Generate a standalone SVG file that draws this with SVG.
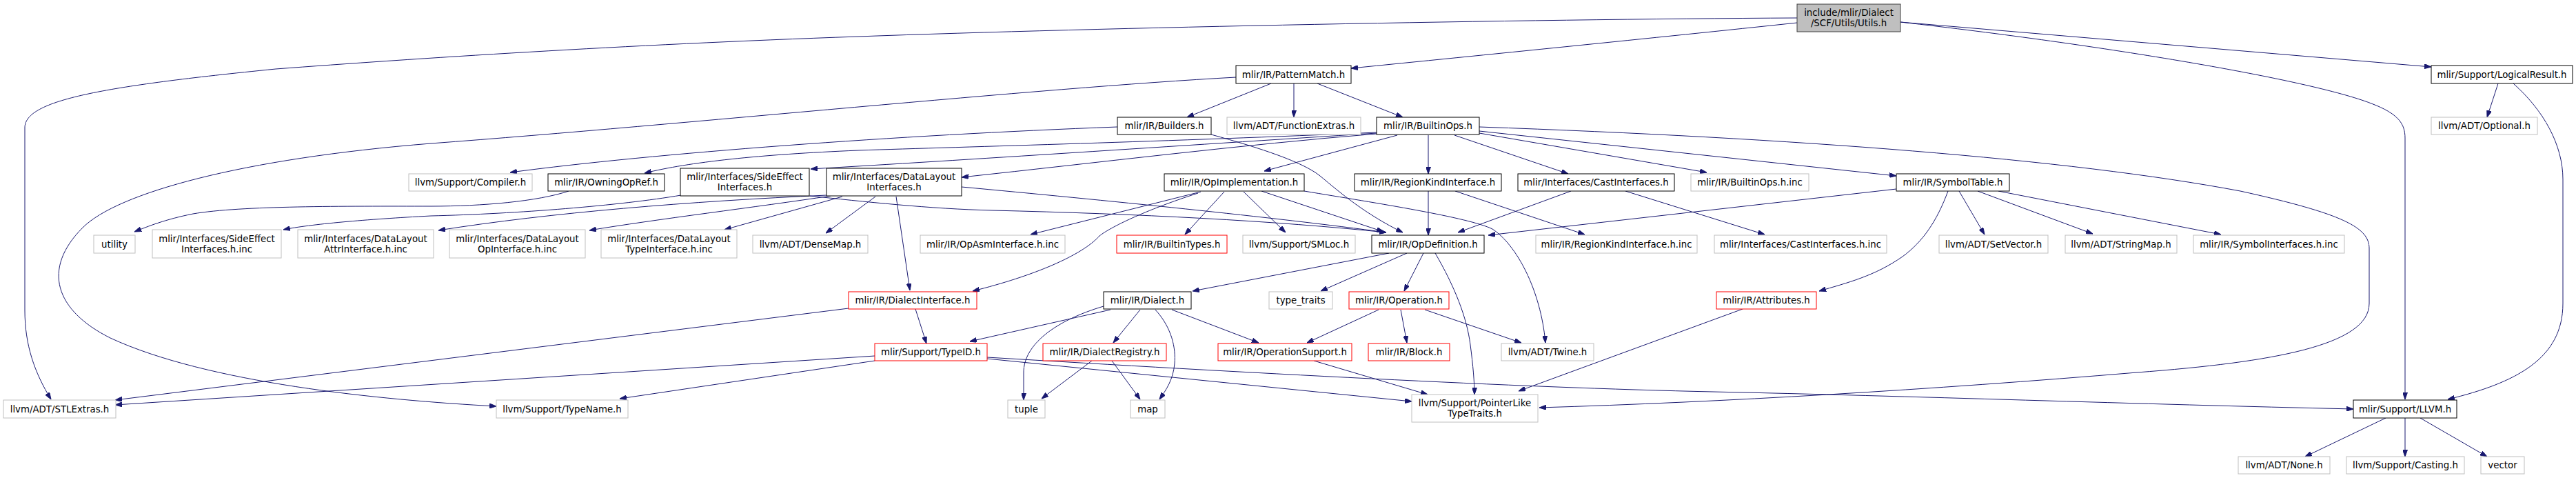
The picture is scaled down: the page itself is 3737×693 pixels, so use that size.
<svg xmlns="http://www.w3.org/2000/svg" width="3737" height="693" viewBox="0 0 3737 693">
<style>
rect{fill:#fff;stroke-width:1}
.b rect{stroke:#000}
.g rect{stroke:#bfbfbf}
.r rect{stroke:#ff0000}
.root rect{fill:#bfbfbf;stroke:#404040}
text{font-family:"DejaVu Sans","Liberation Sans",sans-serif;font-size:13.33px;fill:#000;text-anchor:middle}
#edges path{fill:none;stroke:#191970;stroke-width:1;marker-end:url(#ah)}
</style>
<defs>
<marker id="ah" viewBox="0 0 10 7" refX="10" refY="3.5" markerWidth="10" markerHeight="7" markerUnits="userSpaceOnUse" orient="auto">
<path d="M0,0 L10,3.5 L0,7 z" fill="#191970" stroke="#191970"/>
</marker>
</defs>
<rect x="0" y="0" width="3737" height="693" style="fill:#fff;stroke:none"/>
<g id="edges">
<path d="M2607,33 C2400,55 2150,80 1960,99"/>
<path d="M2607,26 C2200,28 1600,40 1245,53 C900,65 600,85 400,100 C150,125 36,145 36,185 L36,450 C36,500 50,540 74,579"/>
<path d="M2757,32 L3527,97"/>
<path d="M2757,32 C3050,65 3350,115 3440,150 C3480,165 3489,180 3489,200 L3489,579"/>
<path d="M3624,121 L3608,170"/>
<path d="M3646,121 C3690,160 3718,210 3718,260 L3718,440 C3718,520 3650,555 3551,579"/>
<path d="M3461,606 L3344,662"/>
<path d="M3489,606 L3489,662"/>
<path d="M3511,606 L3608,662"/>
<path d="M1844,121 L1722,170"/>
<path d="M1877,121 L1877,170"/>
<path d="M1911,121 L2035,170"/>
<path d="M1793,112 C1500,128 1000,180 625,208 C350,230 170,280 120,330 C60,390 80,450 160,490 C300,555 550,580 720,589"/>
<path d="M1621,184 C1300,196 950,222 740,250"/>
<path d="M1757,195 C1830,215 1890,235 1915,255 C1945,280 1980,310 2035,337"/>
<path d="M1997,192 C1700,205 1400,213 1245,218 C1100,224 1000,235 935,251"/>
<path d="M1997,193 C1700,212 1400,232 1176,245"/>
<path d="M1997,194 C1800,210 1600,235 1395,257"/>
<path d="M2027,196 L1834,248"/>
<path d="M2072,196 L2072,252"/>
<path d="M2110,196 L2275,252"/>
<path d="M2146,193 L2476,250"/>
<path d="M2146,190 L2751,255"/>
<path d="M2146,184 C2600,200 3000,230 3250,277 C3400,310 3437,330 3437,360 L3437,440 C3437,500 3300,525 3100,540 C2800,565 2500,583 2233,591"/>
<path d="M988,283 C900,298 750,310 625,313 C530,318 450,325 411,333"/>
<path d="M825,277 C780,292 700,299 625,299 C500,299 350,298 280,310 C240,318 215,328 195,336"/>
<path d="M1199,283 C1000,292 800,308 636,334"/>
<path d="M1205,284 C1100,300 950,318 855,334"/>
<path d="M1222,285 L1051,333"/>
<path d="M1270,285 L1198,338"/>
<path d="M1300,285 L1320,421"/>
<path d="M1395,271 C1600,290 1850,315 2011,337"/>
<path d="M1175,284 C1250,292 1350,303 1440,305 C1650,310 1850,320 2011,337"/>
<path d="M1830,277 L2007,336"/>
<path d="M1742,278 L1495,340"/>
<path d="M1738,280 C1660,305 1610,330 1595,342 C1570,370 1500,400 1411,422"/>
<path d="M1776,278 L1719,340"/>
<path d="M1804,278 L1865,337"/>
<path d="M1892,277 C2000,295 2130,315 2165,332 C2200,355 2235,420 2242,497"/>
<path d="M2072,277 L2072,341"/>
<path d="M2279,277 L2115,337"/>
<path d="M2751,274 L2159,341"/>
<path d="M2111,277 L2299,340"/>
<path d="M2358,277 L2560,340"/>
<path d="M2826,277 C2810,320 2790,350 2760,372 C2720,400 2680,410 2639,422"/>
<path d="M2842,277 L2879,340"/>
<path d="M2869,277 L3036,339"/>
<path d="M2899,277 L3222,340"/>
<path d="M1328,448 L1344,498"/>
<path d="M1231,447 L167,580"/>
<path d="M1269,516 L167,587"/>
<path d="M1269,523 L899,578"/>
<path d="M1432,520 L2048,582"/>
<path d="M1432,518 C1800,540 2200,562 2485,568 S3100,586 3414,593"/>
<path d="M1611,449 L1407,495"/>
<path d="M1601,444 C1530,465 1485,500 1485,540 L1485,580"/>
<path d="M1654,449 L1615,497"/>
<path d="M1676,449 C1700,475 1706,505 1704,527 C1702,550 1692,565 1682,579"/>
<path d="M1700,449 L1826,497"/>
<path d="M1584,523 L1511,578"/>
<path d="M1613,523 L1654,579"/>
<path d="M2015,367 L1730,422"/>
<path d="M2041,367 L1916,422"/>
<path d="M2065,367 L2037,422"/>
<path d="M2082,367 C2110,415 2128,460 2133,500 C2137,530 2139,555 2139,572"/>
<path d="M2000,449 L1896,497"/>
<path d="M2032,449 L2041,497"/>
<path d="M2067,449 L2207,497"/>
<path d="M1906,523 L2071,572"/>
<path d="M2528,448 L2203,567"/>
</g>
<g id="n_root" class="root"><rect x="2607" y="6" width="150" height="40"/><text x="2682" y="23.1">include/mlir/Dialect</text><text x="2682" y="38.1">/SCF/Utils/Utils.h</text></g>
<g id="n_patternmatch" class="b"><rect x="1793" y="95" width="167" height="26"/><text x="1876.5" y="112.6">mlir/IR/PatternMatch.h</text></g>
<g id="n_logicalresult" class="b"><rect x="3527" y="95" width="205" height="26"/><text x="3629.5" y="112.6">mlir/Support/LogicalResult.h</text></g>
<g id="n_builders" class="b"><rect x="1621" y="170" width="136" height="25"/><text x="1689" y="187.1">mlir/IR/Builders.h</text></g>
<g id="n_functionextras" class="g"><rect x="1780" y="170" width="194" height="25"/><text x="1877" y="187.1">llvm/ADT/FunctionExtras.h</text></g>
<g id="n_builtinops" class="b"><rect x="1997" y="170" width="149" height="25"/><text x="2071.5" y="187.1">mlir/IR/BuiltinOps.h</text></g>
<g id="n_optional" class="g"><rect x="3527" y="170" width="154" height="25"/><text x="3604" y="187.1">llvm/ADT/Optional.h</text></g>
<g id="n_compiler" class="g"><rect x="593" y="252" width="179" height="25"/><text x="682.5" y="269.1">llvm/Support/Compiler.h</text></g>
<g id="n_owningopref" class="b"><rect x="795" y="252" width="169" height="25"/><text x="879.5" y="269.1">mlir/IR/OwningOpRef.h</text></g>
<g id="n_sideeffect" class="b"><rect x="987" y="244" width="187" height="40"/><text x="1080.5" y="261.1">mlir/Interfaces/SideEffect</text><text x="1080.5" y="276.1">Interfaces.h</text></g>
<g id="n_datalayout" class="b"><rect x="1199" y="244" width="196" height="40"/><text x="1297" y="261.1">mlir/Interfaces/DataLayout</text><text x="1297" y="276.1">Interfaces.h</text></g>
<g id="n_opimpl" class="b"><rect x="1689" y="252" width="203" height="25"/><text x="1790.5" y="269.1">mlir/IR/OpImplementation.h</text></g>
<g id="n_regionkind" class="b"><rect x="1965" y="252" width="213" height="25"/><text x="2071.5" y="269.1">mlir/IR/RegionKindInterface.h</text></g>
<g id="n_cast" class="b"><rect x="2202" y="252" width="227" height="25"/><text x="2315.5" y="269.1">mlir/Interfaces/CastInterfaces.h</text></g>
<g id="n_builtinopsinc" class="g"><rect x="2453" y="252" width="171" height="25"/><text x="2538.5" y="269.1">mlir/IR/BuiltinOps.h.inc</text></g>
<g id="n_symboltable" class="b"><rect x="2751" y="252" width="164" height="25"/><text x="2833" y="269.1">mlir/IR/SymbolTable.h</text></g>
<g id="n_utility" class="g"><rect x="136" y="341" width="60" height="26"/><text x="166" y="358.6">utility</text></g>
<g id="n_sideeffectinc" class="g"><rect x="221" y="333" width="187" height="41"/><text x="314.5" y="350.6">mlir/Interfaces/SideEffect</text><text x="314.5" y="365.6">Interfaces.h.inc</text></g>
<g id="n_dlattr" class="g"><rect x="432" y="333" width="197" height="41"/><text x="530.5" y="350.6">mlir/Interfaces/DataLayout</text><text x="530.5" y="365.6">AttrInterface.h.inc</text></g>
<g id="n_dlop" class="g"><rect x="652" y="333" width="197" height="41"/><text x="750.5" y="350.6">mlir/Interfaces/DataLayout</text><text x="750.5" y="365.6">OpInterface.h.inc</text></g>
<g id="n_dltype" class="g"><rect x="872" y="333" width="197" height="41"/><text x="970.5" y="350.6">mlir/Interfaces/DataLayout</text><text x="970.5" y="365.6">TypeInterface.h.inc</text></g>
<g id="n_densemap" class="g"><rect x="1092" y="341" width="167" height="26"/><text x="1175.5" y="358.6">llvm/ADT/DenseMap.h</text></g>
<g id="n_opasm" class="g"><rect x="1335" y="341" width="210" height="26"/><text x="1440" y="358.6">mlir/IR/OpAsmInterface.h.inc</text></g>
<g id="n_builtintypes" class="r"><rect x="1620" y="341" width="160" height="26"/><text x="1700" y="358.6">mlir/IR/BuiltinTypes.h</text></g>
<g id="n_smloc" class="g"><rect x="1803" y="341" width="163" height="26"/><text x="1884.5" y="358.6">llvm/Support/SMLoc.h</text></g>
<g id="n_opdefinition" class="b"><rect x="1990" y="341" width="163" height="26"/><text x="2071.5" y="358.6">mlir/IR/OpDefinition.h</text></g>
<g id="n_regionkindinc" class="g"><rect x="2228" y="341" width="234" height="26"/><text x="2345" y="358.6">mlir/IR/RegionKindInterface.h.inc</text></g>
<g id="n_castinc" class="g"><rect x="2487" y="341" width="250" height="26"/><text x="2612" y="358.6">mlir/Interfaces/CastInterfaces.h.inc</text></g>
<g id="n_setvector" class="g"><rect x="2813" y="341" width="158" height="26"/><text x="2892" y="358.6">llvm/ADT/SetVector.h</text></g>
<g id="n_stringmap" class="g"><rect x="2996" y="341" width="162" height="26"/><text x="3077" y="358.6">llvm/ADT/StringMap.h</text></g>
<g id="n_symbolinc" class="g"><rect x="3182" y="341" width="219" height="26"/><text x="3291.5" y="358.6">mlir/IR/SymbolInterfaces.h.inc</text></g>
<g id="n_dialectinterface" class="r"><rect x="1231" y="423" width="186" height="25"/><text x="1324" y="440.1">mlir/IR/DialectInterface.h</text></g>
<g id="n_dialect" class="b"><rect x="1601" y="423" width="127" height="25"/><text x="1664.5" y="440.1">mlir/IR/Dialect.h</text></g>
<g id="n_typetraits" class="g"><rect x="1841" y="423" width="92" height="25"/><text x="1887" y="440.1">type_traits</text></g>
<g id="n_operation" class="r"><rect x="1957" y="423" width="145" height="25"/><text x="2029.5" y="440.1">mlir/IR/Operation.h</text></g>
<g id="n_attributes" class="r"><rect x="2490" y="423" width="145" height="25"/><text x="2562.5" y="440.1">mlir/IR/Attributes.h</text></g>
<g id="n_typeid" class="r"><rect x="1269" y="498" width="163" height="25"/><text x="1350.5" y="515.1">mlir/Support/TypeID.h</text></g>
<g id="n_dialectregistry" class="r"><rect x="1513" y="498" width="179" height="25"/><text x="1602.5" y="515.1">mlir/IR/DialectRegistry.h</text></g>
<g id="n_opsupport" class="r"><rect x="1767" y="498" width="194" height="25"/><text x="1864" y="515.1">mlir/IR/OperationSupport.h</text></g>
<g id="n_block" class="r"><rect x="1985" y="498" width="118" height="25"/><text x="2044" y="515.1">mlir/IR/Block.h</text></g>
<g id="n_twine" class="g"><rect x="2178" y="498" width="134" height="25"/><text x="2245" y="515.1">llvm/ADT/Twine.h</text></g>
<g id="n_stlextras" class="g"><rect x="5" y="580" width="163" height="26"/><text x="86.5" y="597.6">llvm/ADT/STLExtras.h</text></g>
<g id="n_typename" class="g"><rect x="720" y="580" width="191" height="26"/><text x="815.5" y="597.6">llvm/Support/TypeName.h</text></g>
<g id="n_tuple" class="g"><rect x="1462" y="580" width="54" height="26"/><text x="1489" y="597.6">tuple</text></g>
<g id="n_map" class="g"><rect x="1640" y="580" width="50" height="26"/><text x="1665" y="597.6">map</text></g>
<g id="n_pointerlike" class="g"><rect x="2048" y="572" width="183" height="40"/><text x="2139.5" y="589.1">llvm/Support/PointerLike</text><text x="2139.5" y="604.1">TypeTraits.h</text></g>
<g id="n_llvm" class="b"><rect x="3414" y="580" width="150" height="26"/><text x="3489" y="597.6">mlir/Support/LLVM.h</text></g>
<g id="n_none" class="g"><rect x="3247" y="662" width="133" height="25"/><text x="3313.5" y="679.1">llvm/ADT/None.h</text></g>
<g id="n_casting" class="g"><rect x="3404" y="662" width="171" height="25"/><text x="3489.5" y="679.1">llvm/Support/Casting.h</text></g>
<g id="n_vector" class="g"><rect x="3599" y="662" width="63" height="25"/><text x="3630.5" y="679.1">vector</text></g>
</svg>
